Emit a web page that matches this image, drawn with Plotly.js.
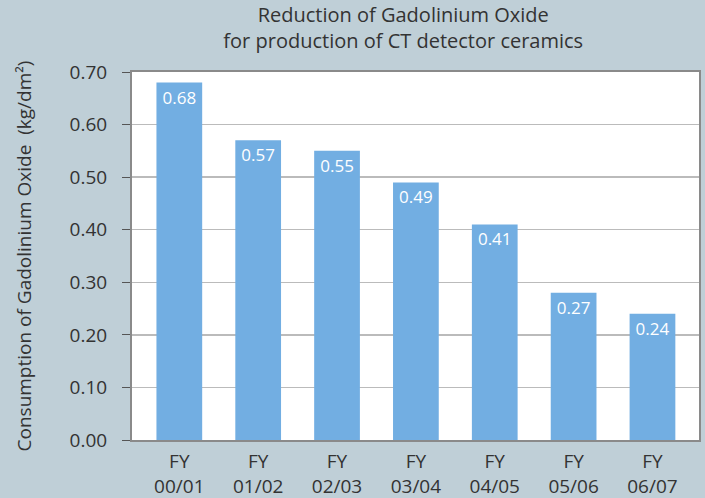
<!DOCTYPE html>
<html><head><meta charset="utf-8">
<script src="https://cdn.plot.ly/plotly-3.0.1.min.js"></script>
<style>html,body{margin:0;padding:0;background:#bfcfd7;}</style>
</head><body>
<div id="chart" style="width:705px;height:498px;"></div>
<script>
const categories = ["FY<br>00/01","FY<br>01/02","FY<br>02/03","FY<br>03/04","FY<br>04/05","FY<br>05/06","FY<br>06/07"];
const values = [0.68, 0.57, 0.55, 0.49, 0.41, 0.28, 0.24];
const valueLabels = ["0.68","0.57","0.55","0.49","0.41","0.27","0.24"];
const yTicks = [0,0.1,0.2,0.3,0.4,0.5,0.6,0.7];
const yTickLabels = ["0.00","0.10","0.20","0.30","0.40","0.50","0.60","0.70"];

const font = "'Open Sans', 'Noto Sans', sans-serif";
Plotly.newPlot('chart', [{
  type:'bar', x:categories, y:values, text:valueLabels,
  textposition:'inside', insidetextanchor:'end', textangle:0,
  textfont:{color:'#ffffff', size:17, family:font},
  marker:{color:'#72aee2'}, hoverinfo:'none', cliponaxis:false
}], {
  width:705, height:498,
  paper_bgcolor:'#bfcfd7', plot_bgcolor:'#ffffff',
  margin:{l:132, r:6, t:72, b:58},
  bargap:0.42,
  showlegend:false,
  font:{family:font, color:'#333333', size:19},
  title:{text:'Reduction of Gadolinium Oxide<br>for production of CT detector ceramics',
         x:0.572, xanchor:'center', y:0.955, yanchor:'top', font:{size:20, color:'#333333', family:font}},
  xaxis:{range:[-0.6, 6.59], showgrid:false, showline:true, linecolor:'#8a8a8a', linewidth:2, mirror:true,
         ticks:'', tickfont:{size:19, color:'#333333'}, ticklabelstandoff:3, fixedrange:true},
  yaxis:{range:[0,0.7], tickvals:yTicks, ticktext:yTickLabels, showgrid:true, gridcolor:'#bbbbbb', gridwidth:1.5,
         showline:true, linecolor:'#8a8a8a', linewidth:2, mirror:true,
         ticks:'outside', ticklen:8, tickcolor:'#555555', tickwidth:1, zeroline:false,
         ticklabelstandoff:11,
         tickfont:{size:19, color:'#333333'},
         title:{text:'Consumption of Gadolinium Oxide  (kg/dm²)', font:{size:19, color:'#333333'}, standoff:33}}
}, {displayModeBar:false, staticPlot:true});
</script>
</body></html>
